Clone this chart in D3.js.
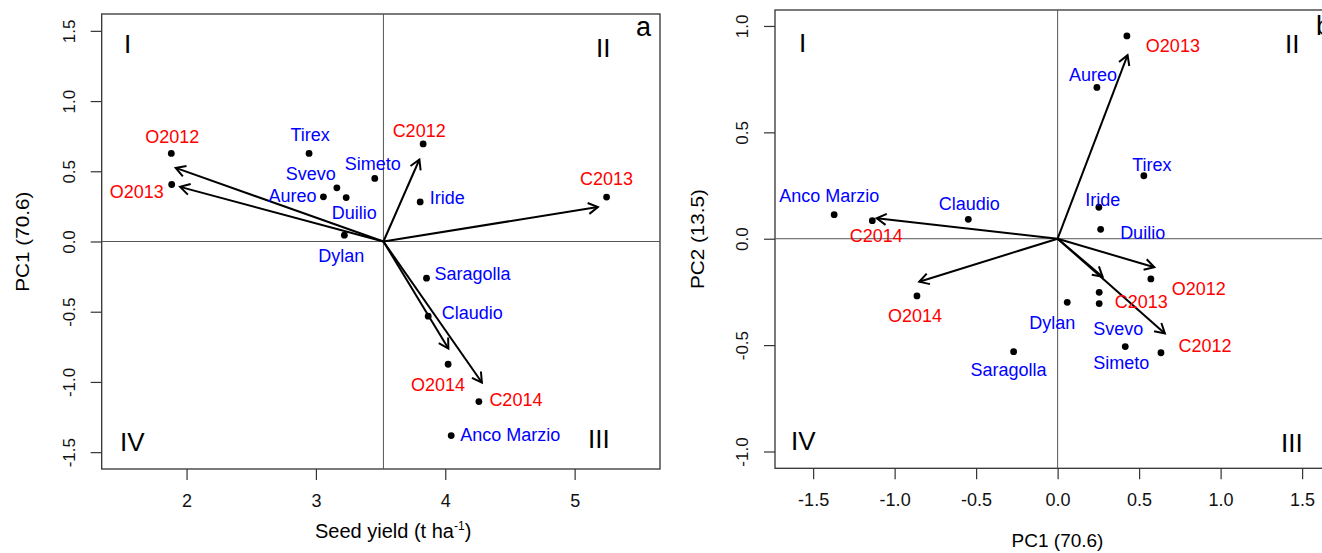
<!DOCTYPE html>
<html>
<head>
<meta charset="utf-8"/>
<title>GGE biplots</title>
<script src="https://d3js.org/d3.v7.min.js"></script>
<style>
  body { margin: 0; background: white; }
  svg { font-family: "Liberation Sans", Arial, sans-serif; }
  .geno { fill: #0000ff; font-size: 18px; }
  .env { fill: #ff0000; font-size: 18px; }
  .quad { font-size: 26px; fill: black; }
  .tick text { fill: #111; }
  .tick line { stroke: #333; stroke-width: 1.2; }
</style>
</head>
<body>
<svg id="chart" width="1322" height="553"></svg>
<script>
// genotypes and environments (same order in both panels)
var genotypes = ["Tirex", "Svevo", "Aureo", "Duilio", "Simeto", "Dylan", "Iride", "Saragolla", "Claudio", "Anco Marzio"];
var environments = ["O2012", "O2013", "C2012", "C2013", "O2014", "C2014"];

// panel a : seed yield vs PC1
var aGenoX = [2.947, 3.162, 3.058, 3.234, 3.455, 3.22, 3.806, 3.855, 3.868, 4.046];
var aGenoY = [0.627, 0.382, 0.318, 0.313, 0.449, 0.045, 0.282, -0.261, -0.532, -1.382];
var aEnvX = [1.882, 1.885, 3.829, 5.247, 4.022, 4.26];
var aEnvY = [0.627, 0.406, 0.695, 0.316, -0.874, -1.14];
var aArrowX = [1.916, 1.95, 3.80, 5.18, 4.024, 4.283];
var aArrowY = [0.524, 0.389, 0.584, 0.246, -0.762, -1.004];
var aOrigin = [3.522, 0];
var aXTicks = [2, 3, 4, 5];
var aYTicks = [-1.5, -1.0, -0.5, 0.0, 0.5, 1.0, 1.5];

// panel b : PC1 vs PC2
var bGenoX = [0.529, 0.255, 0.241, 0.264, 0.415, 0.059, 0.253, -0.27, -0.548, -1.371];
var bGenoY = [0.296, -0.305, 0.711, 0.044, -0.507, -0.299, 0.148, -0.531, 0.091, 0.113];
var bEnvX = [0.572, 0.425, 0.634, 0.255, -0.863, -1.137];
var bEnvY = [-0.189, 0.953, -0.536, -0.252, -0.269, 0.085];
var bArrowX = [0.593, 0.429, 0.658, 0.276, -0.849, -1.11];
var bArrowY = [-0.134, 0.863, -0.445, -0.179, -0.202, 0.096];
var bOrigin = [0, 0];
var bXTicks = [-1.5, -1.0, -0.5, 0.0, 0.5, 1.0, 1.5];
var bYTicks = [-1.0, -0.5, 0.0, 0.5, 1.0];

// label offsets in pixels (layout only)
var aGenoOff = [[1,-12],[-26,-8],[-31,5],[8,21],[-2,-8],[-3,27],[27,2],[46,2],[44,3],[59,5]];
var aEnvOff = [[1,-10],[-35,14],[-4,-7],[0,-12],[-10,27],[37,4]];
var bGenoOff = [[8,-5],[19,31],[-4,-6],[42,10],[-4,22],[-15,27],[4,-1],[-5,24],[1,-9],[-5,-13]];
var bEnvOff = [[48,16],[46,16],[44,-1],[42,16],[-2,26],[4,21]];

var svg = d3.select("#chart");

function drawPanel(p) {
    var x = d3.scaleLinear(p.xDomain, p.xRange);
    var y = d3.scaleLinear(p.yDomain, p.yRange);
    var g = svg.append("g");
    var fmt = p.fmtX;

    // axes
    var xa = g.append("g").attr("transform", "translate(0," + p.yRange[0] + ")")
        .call(d3.axisBottom(x).tickValues(p.xTicks).tickFormat(fmt).tickSize(11).tickSizeOuter(0));
    xa.select(".domain").remove();
    xa.selectAll("text").attr("y", 37.7).attr("dy", null).attr("font-size", 18)
        .text(d => fmt(d).replace("−", "-"));

    var ya = g.append("g").attr("transform", "translate(" + p.xRange[0] + ",0)")
        .call(d3.axisLeft(y).tickValues(p.yTicks).tickSize(11).tickSizeOuter(0));
    ya.select(".domain").remove();
    ya.selectAll("text").attr("x", 0).attr("y", -27).attr("dy", null).attr("font-size", 17)
        .attr("text-anchor", "middle").attr("transform", "rotate(-90)")
        .text(d => d3.format(".1f")(d).replace("−", "-"));

    // box and reference lines
    g.append("rect")
        .attr("x", p.xRange[0]).attr("y", p.yRange[1])
        .attr("width", p.xRange[1] - p.xRange[0]).attr("height", p.yRange[0] - p.yRange[1])
        .attr("fill", "none").attr("stroke", "#333").attr("stroke-width", 1.3);
    g.append("line").attr("x1", x(p.origin[0])).attr("x2", x(p.origin[0]))
        .attr("y1", p.yRange[1]).attr("y2", p.yRange[0]).attr("stroke", "#555").attr("stroke-width", 1);
    g.append("line").attr("y1", y(0)).attr("y2", y(0))
        .attr("x1", p.xRange[0]).attr("x2", p.xRange[1]).attr("stroke", "#555").attr("stroke-width", 1);

    // arrows
    var ox = x(p.origin[0]), oy = y(p.origin[1]);
    p.arrowX.forEach(function(ax, i) {
        var tx = x(ax), ty = y(p.arrowY[i]);
        var ang = Math.atan2(ty - oy, tx - ox);
        var L = 11, a = Math.PI / 6;
        var h1 = [tx - L * Math.cos(ang - a), ty - L * Math.sin(ang - a)];
        var h2 = [tx - L * Math.cos(ang + a), ty - L * Math.sin(ang + a)];
        g.append("line").attr("x1", ox).attr("y1", oy).attr("x2", tx).attr("y2", ty)
            .attr("stroke", "black").attr("stroke-width", 2);
        g.append("path").attr("d", "M" + h1 + "L" + tx + "," + ty + "L" + h2)
            .attr("fill", "none").attr("stroke", "black").attr("stroke-width", 2);
    });

    // points
    p.genoX.forEach(function(gx, i) {
        g.append("circle").attr("cx", x(gx)).attr("cy", y(p.genoY[i])).attr("r", 3.4).attr("fill", "black");
        g.append("text").attr("class", "geno").attr("text-anchor", "middle")
            .attr("x", x(gx) + p.genoOff[i][0]).attr("y", y(p.genoY[i]) + p.genoOff[i][1])
            .text(genotypes[i]);
    });
    p.envX.forEach(function(ex, i) {
        g.append("circle").attr("cx", x(ex)).attr("cy", y(p.envY[i])).attr("r", 3.4).attr("fill", "black");
        g.append("text").attr("class", "env").attr("text-anchor", "middle")
            .attr("x", x(ex) + p.envOff[i][0]).attr("y", y(p.envY[i]) + p.envOff[i][1])
            .text(environments[i]);
    });

    // quadrant labels and panel letter
    p.quads.forEach(function(q) {
        g.append("text").attr("class", "quad").attr("x", q[1]).attr("y", q[2]).text(q[0]);
    });
    g.append("text").attr("x", p.letter[1]).attr("y", p.letter[2])
        .attr("font-size", 27).text(p.letter[0]);

    // y axis title
    g.append("text").attr("transform", "translate(" + p.yTitle[1] + "," + p.yTitle[2] + ") rotate(-90)")
        .attr("text-anchor", "middle").attr("font-size", 19)
        .attr("textLength", 100).attr("lengthAdjust", "spacingAndGlyphs").text(p.yTitle[0]);
    return g;
}

drawPanel({
    xDomain: [1.344, 5.66], xRange: [101.7, 660],
    yDomain: [-1.62, 1.62], yRange: [469, 14],
    xTicks: aXTicks, yTicks: aYTicks, fmtX: d3.format("d"),
    genoX: aGenoX, genoY: aGenoY, envX: aEnvX, envY: aEnvY,
    arrowX: aArrowX, arrowY: aArrowY, origin: aOrigin,
    genoOff: aGenoOff, envOff: aEnvOff,
    quads: [["I", 124, 53], ["II", 596, 57], ["III", 588, 448], ["IV", 120, 451]],
    letter: ["a", 636, 36],
    yTitle: ["PC1 (70.6)", 29, 241.7]
});

var xt = svg.append("text").attr("x", 315).attr("y", 538.3).attr("font-size", 20);
xt.append("tspan").text("Seed yield (t ha");
xt.append("tspan").attr("font-size", 12).attr("dy", -8).text("-1");
xt.append("tspan").attr("dy", 8).text(")");

drawPanel({
    xDomain: [-1.734, 1.73], xRange: [775, 1339.6],
    yDomain: [-1.079, 1.075], yRange: [468.3, 10],
    xTicks: bXTicks, yTicks: bYTicks, fmtX: d3.format(".1f"),
    genoX: bGenoX, genoY: bGenoY, envX: bEnvX, envY: bEnvY,
    arrowX: bArrowX, arrowY: bArrowY, origin: bOrigin,
    genoOff: bGenoOff, envOff: bEnvOff,
    quads: [["I", 799, 52], ["II", 1285, 53], ["III", 1281, 452], ["IV", 791, 450]],
    letter: ["b", 1316, 35],
    yTitle: ["PC2 (13.5)", 703.5, 239]
});

svg.append("text").attr("x", 1057.5).attr("y", 546.7).attr("text-anchor", "middle")
    .attr("font-size", 19).text("PC1 (70.6)");
</script>
</body>
</html>
